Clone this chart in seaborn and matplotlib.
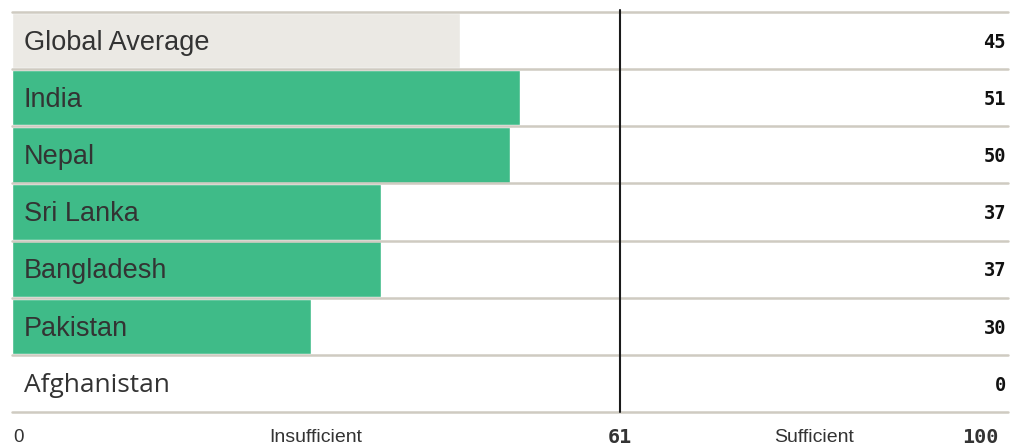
import matplotlib.pyplot as plt
import seaborn as sns
import pandas as pd

# data
countries = ['Global Average', 'India', 'Nepal', 'Sri Lanka', 'Bangladesh', 'Pakistan', 'Afghanistan']
scores = [45, 51, 50, 37, 37, 30, 0]
threshold = 61
zone_labels = ['Insufficient', 'Sufficient']

green = '#3fbb88'
grey_bar = '#ebe9e4'
sep = '#cfcbc1'
ink = '#333333'

df = pd.DataFrame({'country': countries, 'score': scores})
colors = [grey_bar] + [green] * (len(countries) - 1)

sns.set_style('white')
fig = plt.figure(figsize=(10.21, 4.45), dpi=100)
ax = fig.add_axes([12 / 1021, 33 / 445, 996 / 1021, 400 / 445])

sns.barplot(data=df, x='score', y='country', hue='country', palette=colors,
            legend=False, width=0.97, ax=ax, orient='h', saturation=1)

ax.set_xlim(0, 100)
ax.set_ylim(len(countries) - 0.5, -0.5)
ax.set_xlabel('')
ax.set_ylabel('')
ax.set_xticks([])
ax.set_yticks([])
for s in ax.spines.values():
    s.set_visible(False)

# row separators
for i in range(len(countries) + 1):
    ax.axhline(i - 0.5, color=sep, lw=1.8, zorder=3, clip_on=False)

# threshold line
ax.plot([threshold, threshold], [len(countries) - 0.5, -0.53], color='#1a1a1a',
        lw=1.5, zorder=4, clip_on=False)

# labels
for i, (c, v) in enumerate(zip(countries, scores)):
    if v > 0:
        ax.text(1.2, i + 0.04, c, va='center', ha='left', fontsize=19.5, color=ink,
                family='Liberation Sans', zorder=5)
    else:
        ax.text(1.2, i + 0.04, c, va='center', ha='left', fontsize=19, color=ink,
                family='Open Sans', zorder=5)
    ax.text(99.8, i + 0.03, str(v), va='center', ha='right', fontsize=13.5,
            color='#111111', family='DejaVu Sans Mono', fontweight='bold', zorder=5)

# bottom scale
yb = len(countries) - 0.5 + 0.44
ax.text(0.1, yb, '0', ha='left', va='center', fontsize=13.5, color=ink,
        family='Liberation Sans', clip_on=False)
ax.text(threshold / 2, yb, zone_labels[0], ha='center', va='center', fontsize=14,
        color=ink, family='Liberation Sans', clip_on=False)
ax.text(threshold, yb, str(threshold), ha='center', va='center', fontsize=14.5,
        color=ink, family='DejaVu Sans Mono', fontweight='bold', clip_on=False)
ax.text((threshold + 100) / 2, yb, zone_labels[1], ha='center', va='center',
        fontsize=14, color=ink, family='Liberation Sans', clip_on=False)
ax.text(99, yb, '100', ha='right', va='center', fontsize=14.5, color=ink,
        family='DejaVu Sans Mono', fontweight='bold', clip_on=False)

fig.savefig('out.png', dpi=100)
